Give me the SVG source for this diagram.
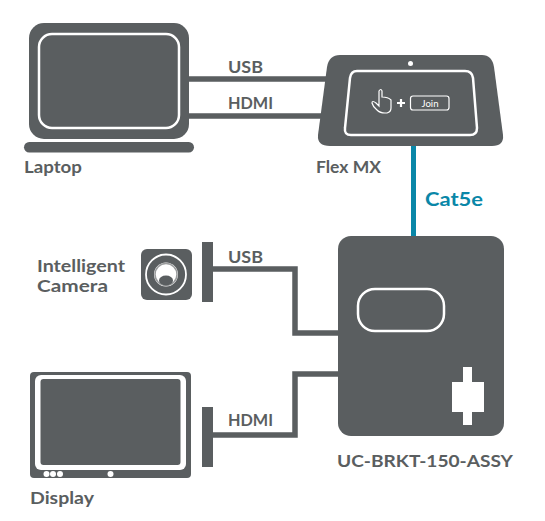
<svg xmlns="http://www.w3.org/2000/svg" width="545" height="521" viewBox="0 0 545 521">
<style>
.g{fill:#5a5e60}
.w{fill:#fff}
.o{fill:none;stroke:#fff}
.c{fill:none;stroke:#5a5e60;stroke-width:5.5}
text{font-family:"Lato","Noto Sans",sans-serif;font-weight:700;fill:#5a5e60}
.l{font-size:17px}
</style>
<rect width="545" height="521" fill="#fff"/>
<g id="connectors">
<path class="c" d="M188 79H335M188 116H325"/>
<path d="M413.500 146V238" fill="none" stroke="#0a87a8" stroke-width="5"/>
<path class="c" d="M207 269H295V333H345"/>
<path class="c" d="M207 435H295V374H345"/>
<rect class="g" x="202" y="242" width="11" height="60"/>
<rect class="g" x="202" y="407" width="11" height="60"/>
</g>
<g id="laptop">
<rect class="g" x="29" y="23" width="160" height="116" rx="15"/>
<rect class="o" x="39" y="34" width="140" height="94" rx="13" stroke-width="2.500"/>
<rect class="g" x="24" y="142" width="170" height="10.500" rx="5.200"/>
<text class="l" x="24" y="172.500" textLength="58" lengthAdjust="spacingAndGlyphs">Laptop</text>
</g>
<g id="flexmx">
<path class="g" d="M340 55H482Q492 55 494 67L503 135Q504 146 492 146H330Q317 146 318 135L327 67Q329 55 340 55Z"/>
<circle class="w" cx="410.500" cy="63.500" r="2.500"/>
<path class="o" stroke-width="2.500" d="M357 71H465Q472 71 473 78L477 128Q477 135 470 135H351Q344 135 345 128L350 78Q351 71 357 71Z"/>
<path class="o" stroke-width="1.200" d="M379 91V106L376 103Q372 100 372 103Q373 107 377 110Q380 113 385 113H387Q391 112 391 108V100Q388 97 382 97V91Q381 88 379 91Z"/>
<path d="M397 103H405M401 99V107" fill="none" stroke="#fff" stroke-width="2.200"/>
<rect class="o" x="410.500" y="96" width="38.500" height="14" rx="2.500" stroke-width="1.200"/>
<text x="421.500" y="106.500" textLength="17" lengthAdjust="spacingAndGlyphs" style="fill:#fff;font-size:9px;font-weight:400">Join</text>
<text class="l" x="316" y="172.500" textLength="65" lengthAdjust="spacingAndGlyphs">Flex MX</text>
</g>
<g id="uc-brkt">
<rect class="g" x="338" y="236" width="166" height="200" rx="13"/>
<rect class="o" x="358" y="289" width="86" height="42" rx="17" stroke-width="2.500"/>
<path class="w" d="M463 367H472V382H484V412H472V425H463V412H452V382H463Z"/>
<text class="l" x="337" y="466.500" textLength="176" lengthAdjust="spacingAndGlyphs">UC-BRKT-150-ASSY</text>
</g>
<g id="camera">
<rect class="g" x="141" y="249" width="51" height="51" rx="6"/>
<circle class="o" cx="166" cy="274.500" r="20" stroke-width="1.800"/>
<circle class="w" cx="166" cy="274.500" r="12"/>
<circle fill="none" stroke="#9a9c9d" stroke-width="1.500" cx="166" cy="274.500" r="11"/>
<ellipse class="g" cx="166" cy="280.500" rx="7" ry="5"/>
<text class="l" x="37" y="271.500" textLength="88" lengthAdjust="spacingAndGlyphs">Intelligent</text>
<text class="l" x="37" y="291.500" textLength="71" lengthAdjust="spacingAndGlyphs">Camera</text>
</g>
<g id="display">
<rect class="g" x="30" y="372" width="161" height="106" rx="4"/>
<rect class="w" x="35" y="375" width="151" height="95" rx="6"/>
<rect class="g" x="40.500" y="379" width="140" height="86" rx="3"/>
<circle class="w" cx="46.500" cy="474" r="3"/><circle class="w" cx="53" cy="474" r="3"/><circle class="w" cx="60" cy="474" r="3"/>
<circle class="w" cx="110.500" cy="474" r="3"/>
<text class="l" x="30" y="503.500" textLength="64" lengthAdjust="spacingAndGlyphs">Display</text>
</g>
<g id="labels">
<text class="l" x="228" y="72.500" textLength="35" lengthAdjust="spacingAndGlyphs">USB</text>
<text class="l" x="228" y="108.500" textLength="45" lengthAdjust="spacingAndGlyphs">HDMI</text>
<text class="l" x="228" y="262.500" textLength="35" lengthAdjust="spacingAndGlyphs">USB</text>
<text class="l" x="228" y="425.500" textLength="45" lengthAdjust="spacingAndGlyphs">HDMI</text>
<text x="425" y="206" textLength="58" lengthAdjust="spacingAndGlyphs" style="fill:#0a87a8;font-size:18px">Cat5e</text>
</g>
</svg>
